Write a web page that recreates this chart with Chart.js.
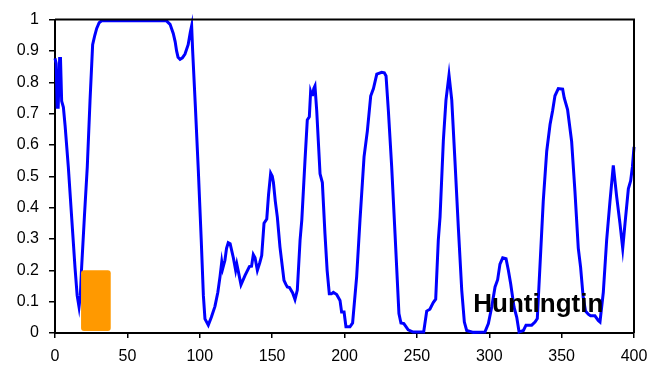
<!DOCTYPE html>
<html>
<head>
<meta charset="utf-8">
<script src="https://cdn.jsdelivr.net/npm/chart.js@4.4.0/dist/chart.umd.min.js"></script>
<style>
html,body{margin:0;padding:0;background:#fff;}
#wrap{width:661px;height:368px;}
</style>
</head>
<body>
<div id="wrap"><canvas id="c" width="661" height="368"></canvas></div>
<script>
// Residue positions and score values
const positions = [0,0.8,1.5,2.2,3.2,3.8,4.6,5.8,7,9.2,11.5,13.8,15.3,16.6,17.5,18.4,20.3,22.3,24.2,26,27.5,28.8,30.5,32.2,77,79.5,81.7,83,84,85,86.4,88,89.8,92,93.5,94.4,95.1,97,99,101,102.5,103.6,105.9,108,110.5,112.5,114,115.2,115.9,117.4,118.5,119.7,121,123.2,124.8,125.6,126.5,128.5,131.3,134.3,135.8,137,138.2,139.8,141.5,142.8,144.4,146.3,147.5,149,150.1,150.9,152.2,153.6,155.4,158.2,159.5,160.5,162,164.2,165.8,167.4,169.3,170.5,172.7,174.3,175.7,176.6,177.3,178,178.8,179.6,180.8,183.1,184.7,186.5,188,189.5,191,192.3,194.6,196.9,198,199.7,201,203.8,205.6,208.4,210.7,213.5,215.8,218.1,220,222.3,225.7,227.5,228.7,230.3,232.6,234.9,237.6,239,241,244,247.4,254.7,256.8,259,261.3,263,264.8,266,268.3,270.1,272.2,274.1,276.3,278.6,281,282.8,284.4,289,297,299.4,301.7,304,305.8,307.4,309.3,311.6,313.2,314.8,317.1,319,320.6,323.6,325.4,329.3,331.6,333.2,335,337.3,339.7,342,343.8,345.4,347.7,350.7,351.8,354.1,356.9,359.2,361.5,363.1,364.9,366.5,368.4,370,373,375.3,376.5,378.8,381.1,383.4,385.7,388,390.3,392.2,393.8,396.1,397.7,398.9,400];
const scores = [0.876,0.86,0.72,0.72,0.876,0.876,0.74,0.72,0.66,0.53,0.37,0.21,0.12,0.083,0.12,0.21,0.37,0.53,0.742,0.92,0.95,0.972,0.99,0.996,0.996,0.985,0.956,0.93,0.90,0.88,0.873,0.878,0.89,0.92,0.96,0.98,0.9,0.72,0.52,0.3,0.12,0.045,0.025,0.05,0.085,0.13,0.18,0.227,0.206,0.232,0.27,0.288,0.285,0.24,0.2,0.22,0.2,0.154,0.184,0.212,0.213,0.25,0.24,0.2,0.225,0.247,0.35,0.364,0.44,0.51,0.5,0.48,0.42,0.37,0.275,0.168,0.155,0.147,0.145,0.128,0.107,0.137,0.296,0.36,0.55,0.68,0.69,0.77,0.76,0.76,0.78,0.788,0.71,0.508,0.48,0.317,0.2,0.125,0.125,0.13,0.123,0.104,0.067,0.067,0.02,0.02,0.032,0.18,0.36,0.562,0.645,0.756,0.78,0.826,0.832,0.83,0.82,0.71,0.53,0.317,0.062,0.032,0.03,0.01,0.003,0.003,0.07,0.076,0.097,0.108,0.296,0.37,0.615,0.743,0.823,0.743,0.55,0.34,0.136,0.035,0.008,0.002,0.003,0.03,0.083,0.147,0.17,0.22,0.24,0.237,0.2,0.157,0.083,0.05,0.003,0.008,0.025,0.025,0.035,0.046,0.21,0.42,0.58,0.665,0.71,0.757,0.78,0.778,0.75,0.713,0.612,0.452,0.271,0.21,0.114,0.07,0.06,0.055,0.055,0.04,0.035,0.13,0.296,0.42,0.535,0.436,0.35,0.27,0.35,0.46,0.486,0.53,0.594];
const xTicks = [0,50,100,150,200,250,300,350,400];
const yTicks = [0,0.1,0.2,0.3,0.4,0.5,0.6,0.7,0.8,0.9,1];
const boxX = [18, 38.5];
const boxY = [0.006, 0.2];
const labelText = "Huntingtin";
const labelPos = [289, 0.067];

const points = positions.map((p,i)=>({x:p,y:scores[i]}));

const extras = {
  id:'extras',
  afterDraw(chart){
    const ctx = chart.ctx, a = chart.chartArea;
    const xs = chart.scales.x, ys = chart.scales.y;
    ctx.save();
    // frame top & right
    ctx.strokeStyle='#000'; ctx.lineWidth=2;
    ctx.beginPath();
    ctx.moveTo(a.left, a.top); ctx.lineTo(a.right, a.top); ctx.lineTo(a.right, a.bottom);
    ctx.stroke();
    // orange box
    const x0 = xs.getPixelForValue(boxX[0]), x1 = xs.getPixelForValue(boxX[1]);
    const y0 = ys.getPixelForValue(boxY[1]), y1 = ys.getPixelForValue(boxY[0]);
    ctx.fillStyle='#FF9900';
    ctx.beginPath();
    ctx.roundRect(x0, y0, x1-x0, y1-y0, 3);
    ctx.fill();
    // label
    ctx.fillStyle='#000';
    ctx.font='bold 26px "Liberation Sans", Arial, sans-serif';
    ctx.textAlign='left'; ctx.textBaseline='alphabetic';
    ctx.fillText(labelText, xs.getPixelForValue(labelPos[0]), ys.getPixelForValue(labelPos[1]));
    ctx.restore();
  }
};

const fmt = v => String(Math.round(v*10)/10);

new Chart(document.getElementById('c'), {
  type:'line',
  data:{datasets:[{data:points, borderColor:'#0000FF', borderWidth:3, pointRadius:0, tension:0, fill:false, clip:false}]},
  options:{
    responsive:false, animation:false, devicePixelRatio:1,
    layout:{padding:{top:19, right:27, left:0, bottom:0}},
    plugins:{legend:{display:false}, tooltip:{enabled:false}},
    scales:{
      x:{type:'linear', min:0, max:400,
        afterBuildTicks(s){ s.ticks = xTicks.map(v=>({value:v})); },
        afterFit(s){ s.height = 35; },
        ticks:{color:'#000', font:{family:'"Liberation Sans", Arial, sans-serif', size:16}, padding:9, maxRotation:0, autoSkip:false, callback:fmt},
        grid:{drawOnChartArea:false, color:'#000', lineWidth:1.5, tickLength:5},
        border:{color:'#000', width:2}
      },
      y:{type:'linear', min:0, max:1,
        afterBuildTicks(s){ s.ticks = yTicks.map(v=>({value:v})); },
        afterFit(s){ s.width = 55; },
        ticks:{color:'#000', font:{family:'"Liberation Sans", Arial, sans-serif', size:16}, padding:10, autoSkip:false, callback:fmt},
        grid:{drawOnChartArea:false, color:'#000', lineWidth:1.5, tickLength:6},
        border:{color:'#000', width:2}
      }
    }
  },
  plugins:[extras]
});
</script>
</body>
</html>
